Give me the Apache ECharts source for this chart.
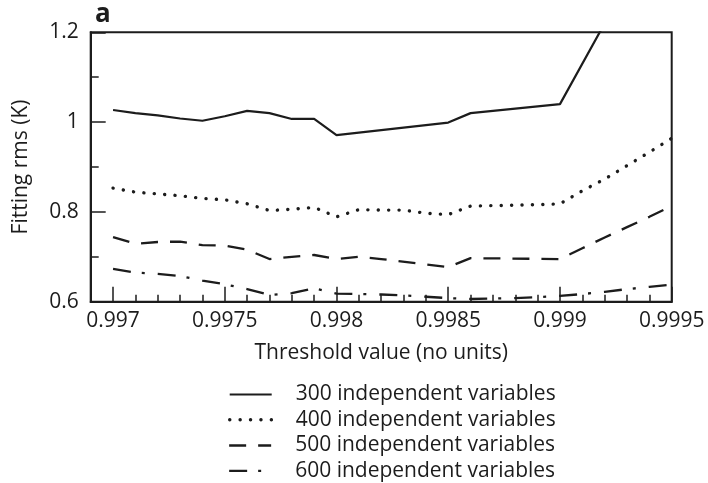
<!DOCTYPE html>
<html>
<head>
<meta charset="utf-8">
<script src="https://cdn.jsdelivr.net/npm/echarts@6/dist/echarts.min.js"></script>
<style>
  html, body { margin: 0; padding: 0; background: #fff; }
  #chart { width: 708px; height: 483px; }
</style>
</head>
<body>
<div id="chart"></div>
<script>
// Fitting rms versus threshold value for four model sizes
const seriesNames = [
  '300 independent variables',
  '400 independent variables',
  '500 independent variables',
  '600 independent variables'
];

const thr300 = [0.9970, 0.9971, 0.9972, 0.9973, 0.9974, 0.9975, 0.9976, 0.9977, 0.9978, 0.9979, 0.9980, 0.9985, 0.9986, 0.9990, 0.9992];
const rms300 = [1.027, 1.020, 1.015, 1.008, 1.003, 1.013, 1.025, 1.020, 1.007, 1.007, 0.971, 0.999, 1.020, 1.040, 1.220];

const thr400 = [0.9970, 0.9971, 0.9972, 0.9973, 0.9974, 0.9975, 0.9976, 0.9977, 0.9978, 0.9979, 0.9980, 0.9981, 0.9982, 0.9983, 0.9984, 0.9985, 0.9986, 0.9987, 0.9988, 0.9989, 0.9990, 0.9991, 0.9992, 0.9993, 0.9994, 0.9995];
const rms400 = [0.853, 0.844, 0.840, 0.836, 0.830, 0.827, 0.818, 0.803, 0.806, 0.810, 0.789, 0.805, 0.804, 0.804, 0.797, 0.794, 0.813, 0.814, 0.815, 0.816, 0.818, 0.847, 0.873, 0.903, 0.933, 0.964];

const thr500 = [0.9970, 0.9971, 0.9972, 0.9973, 0.9974, 0.9975, 0.9976, 0.9977, 0.9978, 0.9979, 0.9980, 0.9981, 0.9982, 0.9985, 0.9986, 0.9990, 0.9991, 0.9992, 0.9993, 0.9994, 0.9995];
const rms500 = [0.744, 0.729, 0.733, 0.734, 0.726, 0.725, 0.716, 0.695, 0.700, 0.704, 0.695, 0.700, 0.695, 0.677, 0.697, 0.695, 0.719, 0.743, 0.766, 0.789, 0.813];

const thr600 = [0.9970, 0.9971, 0.9972, 0.9973, 0.9974, 0.9975, 0.9976, 0.9977, 0.9978, 0.9979, 0.9980, 0.9981, 0.9982, 0.9983, 0.9984, 0.9985, 0.9986, 0.9987, 0.9988, 0.9989, 0.9990, 0.9991, 0.9992, 0.9993, 0.9994, 0.9995];
const rms600 = [0.673, 0.665, 0.662, 0.657, 0.647, 0.639, 0.628, 0.615, 0.619, 0.630, 0.618, 0.617, 0.616, 0.614, 0.611, 0.608, 0.606, 0.607, 0.608, 0.610, 0.613, 0.617, 0.622, 0.628, 0.633, 0.638];

// Axis ticks
const xMajorTicks = [0.997, 0.9975, 0.998, 0.9985, 0.999, 0.9995];
const xTickLabels = ['0.997', '0.9975', '0.998', '0.9985', '0.999', '0.9995'];
const xMinorTicks = [];
for (let k = 9969; k <= 9995; k++) xMinorTicks.push(k / 10000);
const yTickLabels = ['0.6', '0.8', '1', '1.2'];

const pairs = (xs, ys) => xs.map((x, i) => [x, ys[i]]);

const FONT = '"Open Sans", "Noto Sans", sans-serif';
const INK = '#1c1c1c';

// Line styles shared by the plotted series and their legend samples
const styles = [
  { color: INK, width: 2.2, type: 'solid' },
  { color: INK, width: 3.4, type: [0.1, 10.3], cap: 'round' },
  { color: INK, width: 2.3, type: [17, 12] },
  { color: INK, width: 2.3, type: [18, 11, 3, 13] }
];

// The key is split into two stacked blocks so it fits below the axis title
const legendBlock = (names, top) => ({
  orient: 'vertical',
  left: 228,
  top,
  padding: 0,
  itemWidth: 42,
  itemHeight: 14,
  itemGap: 4.3,
  itemStyle: { opacity: 0, borderWidth: 0 },
  textStyle: { fontFamily: FONT, fontSize: 21, color: INK, padding: [0, 0, 0, 19] },
  data: names.map((name) => ({ name, lineStyle: styles[seriesNames.indexOf(name)] }))
});

const chart = echarts.init(document.getElementById('chart'), null, { renderer: 'canvas' });

chart.setOption({
  animation: false,
  backgroundColor: '#fff',
  color: [INK, INK, INK, INK],
  title: {
    text: 'a',
    left: 90,
    top: -3,
    textStyle: { fontFamily: FONT, fontWeight: 'bold', fontSize: 26, color: INK }
  },
  grid: {
    left: 90.7, right: 36.3, top: 32.3, bottom: 181.3,
    show: true, borderColor: INK, borderWidth: 2,
    outerBoundsMode: 'none'
  },
  legend: [
    legendBlock(seriesNames.slice(0, 2), 384),
    legendBlock(seriesNames.slice(2, 4), 435)
  ],
  xAxis: [
    {
      type: 'value',
      min: 0.9969, max: 0.9995,
      position: 'bottom',
      axisLine: { show: true, onZero: false, lineStyle: { color: INK, width: 2 } },
      axisTick: { show: true, inside: true, length: 7, customValues: xMinorTicks, lineStyle: { color: INK, width: 1.5 } },
      axisLabel: { show: false },
      splitLine: { show: false },
      name: 'Threshold value (no units)',
      nameLocation: 'middle',
      nameGap: 41,
      nameTextStyle: { fontFamily: FONT, fontSize: 21, color: INK, verticalAlign: 'top' }
    },
    {
      type: 'value',
      min: 0.9969, max: 0.9995,
      position: 'bottom',
      axisLine: { show: false, onZero: false },
      axisTick: { show: true, inside: true, length: 15, customValues: xMajorTicks, lineStyle: { color: INK, width: 1.5 } },
      axisLabel: {
        show: true, margin: 9,
        customValues: xMajorTicks,
        fontFamily: FONT, fontSize: 21, color: INK,
        formatter: (v) => {
          const i = xMajorTicks.findIndex(t => Math.abs(t - v) < 1e-7);
          return i >= 0 ? xTickLabels[i] : '';
        }
      },
      splitLine: { show: false }
    }
  ],
  yAxis: {
    type: 'value',
    min: 0.6, max: 1.2, interval: 0.2,
    axisLine: { show: true, onZero: false, lineStyle: { color: INK, width: 2 } },
    axisTick: { show: true, inside: true, length: 15, lineStyle: { color: INK, width: 1.5 } },
    minorTick: { show: true, splitNumber: 2, length: 8, lineStyle: { color: INK, width: 1.5 } },
    axisLabel: {
      margin: 12, fontFamily: FONT, fontSize: 21, color: INK,
      formatter: (v) => {
        const i = Math.round((v - 0.6) / 0.2);
        return yTickLabels[i] !== undefined ? yTickLabels[i] : '';
      }
    },
    splitLine: { show: false },
    name: 'Fitting rms (K)',
    nameLocation: 'middle',
    nameGap: 59,
    nameTextStyle: { fontFamily: FONT, fontSize: 21, color: INK }
  },
  series: [thr300, thr400, thr500, thr600].map((xs, i) => ({
    name: seriesNames[i],
    type: 'line',
    xAxisIndex: 0,
    symbol: 'none',
    clip: true,
    itemStyle: { color: INK },
    lineStyle: styles[i],
    data: pairs(xs, [rms300, rms400, rms500, rms600][i])
  }))
});
</script>
</body>
</html>
